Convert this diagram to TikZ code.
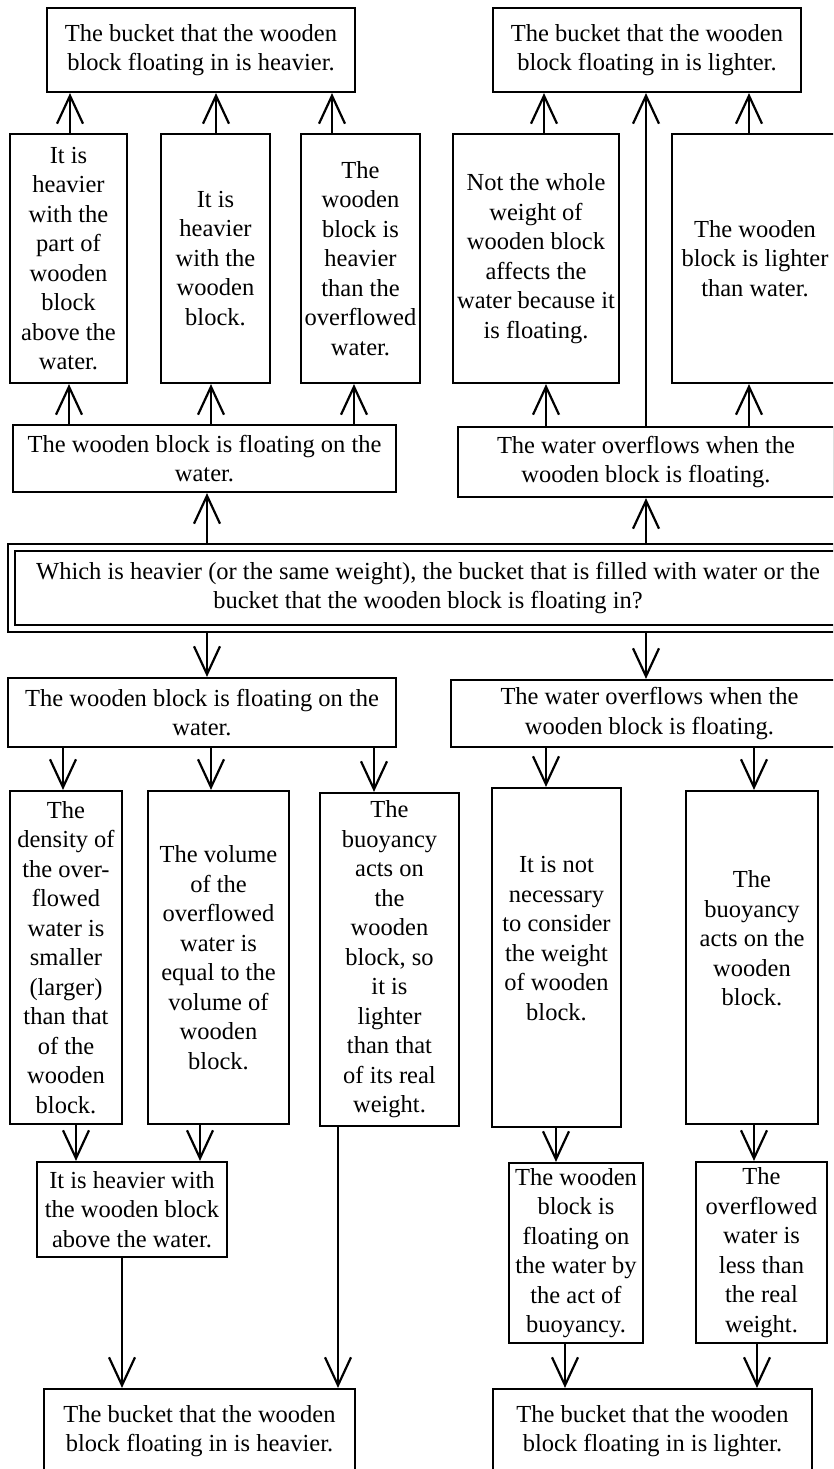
\documentclass[tikz,border=0pt]{standalone}
\usepackage{fontspec}
\setmainfont{Liberation Serif}
\usepackage{tikz}
\usetikzlibrary{arrows.meta}
\tikzset{
  box/.style={draw, line width=2.2pt, inner sep=2pt, align=center, font=\fontsize{24.5}{29.5}\selectfont},
  qbox/.style={box, double, double distance=5pt, outer sep=4.7pt},
  arr/.style={line width=2.2pt, -{Straight Barb[length=28pt,width=26pt]}},
}

\begin{document}
\begin{tikzpicture}[x=1pt,y=-1pt]
  \useasboundingbox (0,0) rectangle (833,1469);
  \clip (0,0) rectangle (833,1469);
  % upper half
  \node[box, minimum width=308pt, minimum height=84pt] (heavyTop) at (201,50) {The bucket that the wooden\\block floating in is heavier.};
  \node[box, minimum width=308pt, minimum height=84pt] (lightTop) at (647,50) {The bucket that the wooden\\block floating in is lighter.};
  \node[box, minimum width=117pt, minimum height=249pt] (partAbove) at (68.5,258.5) {It is\\heavier\\with the\\part of\\wooden\\block\\above the\\water.};
  \node[box, minimum width=109pt, minimum height=249pt] (withBlock) at (215.5,258.5) {It is\\heavier\\with the\\wooden\\block.};
  \node[box, minimum width=119pt, minimum height=249pt] (overWater) at (360.5,258.5) {The\\wooden\\block is\\heavier\\than the\\overflowed\\water.};
  \node[box, minimum width=166pt, minimum height=249pt] (notWhole) at (536,258.5) {Not the whole\\weight of\\wooden block\\affects the\\water because it\\is floating.};
  \node[box, minimum width=166pt, minimum height=249pt] (lighterWater) at (755,258.5) {The wooden\\block is lighter\\than water.};
  \node[box, minimum width=383pt, minimum height=67pt] (floatUp) at (204.5,458.5) {The wooden block is floating on the\\water.};
  \node[box, minimum width=376pt, minimum height=70pt] (overflowUp) at (646,462) {The water overflows when the\\wooden block is floating.};
  % question
  \node[qbox, minimum width=833pt, minimum height=81pt] (question) at (428,588) {Which is heavier (or the same weight), the bucket that is filled with water or the\\bucket that the wooden block is floating in?};
  % lower half
  \node[box, minimum width=388pt, minimum height=69pt] (floatDown) at (202,712.5) {The wooden block is floating on the\\water.};
  \node[box, minimum width=397pt, minimum height=67pt] (overflowDown) at (649.5,713.5) {The water overflows when the\\wooden block is floating.};
  \node[box, minimum width=112pt, minimum height=333pt] (density) at (66,957.5) {The\\density of\\the over-\\flowed\\water is\\smaller\\(larger)\\than that\\of the\\wooden\\block.};
  \node[box, minimum width=141pt, minimum height=333pt] (volume) at (218.5,957.5) {The volume\\of the\\overflowed\\water is\\equal to the\\volume of\\wooden\\block.};
  \node[box, minimum width=139pt, minimum height=333pt] (buoyancySo) at (389.5,959.5) {The\\buoyancy\\acts on\\the\\wooden\\block, so\\it is\\lighter\\than that\\of its real\\weight.};
  \node[box, minimum width=129pt, minimum height=339pt] (notNeeded) at (556.5,957.5) {It is not\\necessary\\to consider\\the weight\\of wooden\\block.\\\strut};
  \node[box, minimum width=132pt, minimum height=333pt] (buoyancyActs) at (752,957.5) {The\\buoyancy\\acts on the\\wooden\\block.\\\strut};
  \node[box, minimum width=190pt, minimum height=95pt] (heavierAbove) at (132,1209.5) {It is heavier with\\the wooden block\\above the water.};
  \node[box, minimum width=134pt, minimum height=180pt] (floatAct) at (576,1253) {The wooden\\block is\\floating on\\the water by\\the act of\\buoyancy.};
  \node[box, minimum width=131pt, minimum height=181pt] (lessWeight) at (761.5,1252.5) {The\\overflowed\\water is\\less than\\the real\\weight.};
  \node[box, minimum width=311pt, minimum height=84pt] (heavyBottom) at (199.5,1431) {The bucket that the wooden\\block floating in is heavier.};
  \node[box, minimum width=319pt, minimum height=84pt] (lightBottom) at (652.5,1431) {The bucket that the wooden\\block floating in is lighter.};
  % arrows up
  \draw[arr] (partAbove.north -| 70,0) -- (heavyTop.south -| 70,0);
  \draw[arr] (withBlock.north -| 216,0) -- (heavyTop.south -| 216,0);
  \draw[arr] (overWater.north -| 332,0) -- (heavyTop.south -| 332,0);
  \draw[arr] (floatUp.north -| 69,0) -- (partAbove.south -| 69,0);
  \draw[arr] (floatUp.north -| 211,0) -- (withBlock.south -| 211,0);
  \draw[arr] (floatUp.north -| 354,0) -- (overWater.south -| 354,0);
  \draw[arr] (notWhole.north -| 544,0) -- (lightTop.south -| 544,0);
  \draw[arr] (overflowUp.north) -- (lightTop.south -| overflowUp.north);
  \draw[arr] (lighterWater.north -| 749,0) -- (lightTop.south -| 749,0);
  \draw[arr] (overflowUp.north -| 546,0) -- (notWhole.south -| 546,0);
  \draw[arr] (overflowUp.north -| 749,0) -- (lighterWater.south -| 749,0);
  \draw[arr] (question.north -| 207,0) -- (floatUp.south -| 207,0);
  \draw[arr] (question.north -| 646,0) -- (overflowUp.south -| 646,0);
  % arrows down
  \draw[arr] (question.south -| 207,0) -- (floatDown.north -| 207,0);
  \draw[arr] (question.south -| 646,0) -- (overflowDown.north -| 646,0);
  \draw[arr] (floatDown.south -| 63,0) -- (density.north -| 63,0);
  \draw[arr] (floatDown.south -| 211,0) -- (volume.north -| 211,0);
  \draw[arr] (floatDown.south -| 374,0) -- (buoyancySo.north -| 374,0);
  \draw[arr] (overflowDown.south -| 546,0) -- (notNeeded.north -| 546,0);
  \draw[arr] (overflowDown.south -| 754,0) -- (buoyancyActs.north -| 754,0);
  \draw[arr] (density.south -| 76,0) -- (heavierAbove.north -| 76,0);
  \draw[arr] (volume.south -| 200,0) -- (heavierAbove.north -| 200,0);
  \draw[arr] (heavierAbove.south -| 122,0) -- (heavyBottom.north -| 122,0);
  \draw[arr] (buoyancySo.south -| 338,0) -- (heavyBottom.north -| 338,0);
  \draw[arr] (notNeeded.south -| 556,0) -- (floatAct.north -| 556,0);
  \draw[arr] (buoyancyActs.south -| 754,0) -- (lessWeight.north -| 754,0);
  \draw[arr] (floatAct.south -| 565,0) -- (lightBottom.north -| 565,0);
  \draw[arr] (lessWeight.south -| 757,0) -- (lightBottom.north -| 757,0);
\end{tikzpicture}
\end{document}
